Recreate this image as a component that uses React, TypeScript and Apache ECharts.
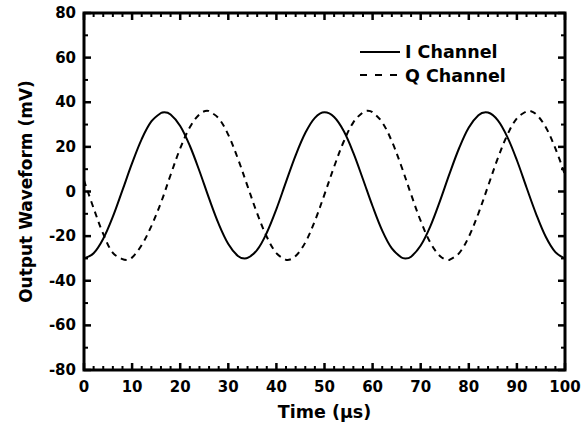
import React, { useEffect, useRef } from "react";
import * as echarts from "echarts";

const iTime = [0, 2, 4, 6, 8, 10, 12, 14, 16, 16.7, 18, 20, 22, 24, 26, 28, 30, 32, 33.4, 34, 36, 38, 40, 42, 44, 46, 48, 50, 52, 54, 56, 58, 60, 62, 64, 66, 66.8, 68, 70, 72, 74, 76, 78, 80, 82, 83.5, 84, 86, 88, 90, 92, 94, 96, 98, 100];
const iChannel = [-30.0, -27.7, -21.2, -11.3, 0.6, 12.7, 23.5, 31.4, 35.2, 35.5, 34.5, 29.4, 20.5, 9.2, -3.1, -14.5, -23.5, -28.9, -30.0, -29.8, -26.2, -18.5, -7.9, 4.3, 16.2, 26.2, 33.0, 35.5, 33.4, 27.1, 17.3, 5.5, -6.6, -17.5, -25.5, -29.6, -30.0, -29.2, -24.2, -15.6, -4.3, 8.0, 19.5, 28.7, 34.2, 35.5, 35.4, 32.0, 24.5, 14.0, 1.8, -10.1, -20.3, -27.2, -30.0];
const qTime = [0, 2, 4, 6, 8, 8.9, 10, 12, 14, 16, 18, 20, 22, 24, 25.6, 26, 28, 30, 32, 34, 36, 38, 40, 42, 42.3, 44, 46, 48, 50, 52, 54, 56, 58, 59, 60, 62, 64, 66, 68, 70, 72, 74, 75.7, 76, 78, 80, 82, 84, 86, 88, 90, 92, 92.4, 94, 96, 98, 100];
const qChannel = [5.0, -7.5, -19.0, -27.5, -30.3, -30.7, -29.6, -24.0, -15.5, -5.0, 7.4, 19.3, 28.8, 34.6, 36.2, 36.0, 32.8, 25.4, 14.7, 2.4, -9.8, -20.3, -27.6, -30.6, -30.7, -28.9, -22.9, -13.2, -1.3, 11.1, 22.4, 31.0, 35.5, 36.2, 35.5, 31.0, 22.5, 11.2, -1.3, -13.2, -22.9, -28.9, -30.7, -30.6, -27.6, -20.3, -9.8, 2.4, 14.7, 25.3, 32.8, 36.0, 36.2, 34.6, 28.8, 19.3, 7.5];
const seriesNames = ["I Channel", "Q Channel"];
const xTitle = "Time (\u03bcs)";
const yTitle = "Output Waveform (mV)";
const xMajorTicks = [0, 10, 20, 30, 40, 50, 60, 70, 80, 90, 100];
const yMajorTicks = [-80, -60, -40, -20, 0, 20, 40, 60, 80];
const xMinorPerMajor = 5;
const yMinorPerMajor = 2;

const FONT = "'DejaVu Sans', 'Liberation Sans', Arial, sans-serif";

export default function App() {
  const ref = useRef<HTMLDivElement>(null);
  useEffect(() => {
    if (!ref.current) return;
    const chart = echarts.init(ref.current, null, { renderer: "svg" });
    const labelStyle = { color: "#000", fontFamily: FONT, fontWeight: "bold" as const, fontSize: 15 };
    const legendText = { fill: "#000", fontFamily: FONT, fontWeight: "bold", fontSize: 17.5 };
    const legendGraphics = [
      { type: "line", shape: { x1: 360, y1: 52, x2: 400, y2: 52 }, style: { stroke: "#000", lineWidth: 2 } },
      { type: "text", x: 405, y: 52, style: { ...legendText, text: seriesNames[0], verticalAlign: "middle" } },
      { type: "line", shape: { x1: 360, y1: 75, x2: 402, y2: 75 }, style: { stroke: "#000", lineWidth: 2, lineDash: [7, 8] } },
      { type: "text", x: 405, y: 76, style: { ...legendText, text: seriesNames[1], verticalAlign: "middle" } },
    ];
    chart.setOption({
      animation: false,
      backgroundColor: "#fff",
      grid: { left: 84, right: 23, top: 13, bottom: 60, containLabel: false, show: true, borderColor: "#000", borderWidth: 3, backgroundColor: "transparent" },
      graphic: legendGraphics,
      xAxis: {
        type: "value", min: 0, max: 100, interval: 10,
        axisLine: { show: false, onZero: false }, axisTick: { show: false }, minorTick: { show: false },
        splitLine: { show: false },
        axisLabel: { ...labelStyle, margin: 9 },
        name: xTitle, nameLocation: "middle", nameGap: 33,
        nameTextStyle: { color: "#000", fontFamily: FONT, fontWeight: "bold", fontSize: 17.5 },
      },
      yAxis: {
        type: "value", min: -80, max: 80, interval: 20,
        axisLine: { show: false, onZero: false }, axisTick: { show: false }, minorTick: { show: false },
        splitLine: { show: false },
        axisLabel: { ...labelStyle, margin: 8 },
        name: yTitle, nameLocation: "middle", nameGap: 50, nameRotate: 90,
        nameTextStyle: { color: "#000", fontFamily: FONT, fontWeight: "bold", fontSize: 17 },
      },
      series: [
        {
          name: seriesNames[0], type: "line", smooth: 0.35, symbol: "none",
          data: iTime.map((t, i) => [t, iChannel[i]]),
          lineStyle: { color: "#000", width: 2, type: "solid" },
          itemStyle: { color: "#000" },
        },
        {
          name: seriesNames[1], type: "line", smooth: 0.35, symbol: "none",
          data: qTime.map((t, i) => [t, qChannel[i]]),
          lineStyle: { color: "#000", width: 2, type: [6, 5] },
          itemStyle: { color: "#000" },
        },
      ],
    });

    // inward ticks on all four sides, placed through the axes' own scales
    const px = (v: number) => chart.convertToPixel({ xAxisIndex: 0 }, v) as number;
    const py = (v: number) => chart.convertToPixel({ yAxisIndex: 0 }, v) as number;
    const left = px(xMajorTicks[0]);
    const right = px(xMajorTicks[xMajorTicks.length - 1]);
    const bottom = py(yMajorTicks[0]);
    const top = py(yMajorTicks[yMajorTicks.length - 1]);
    const ticks: any[] = [];
    const majorLen = 7;
    const minorLen = 4;
    const addX = (v: number, len: number, w: number) => {
      const x = px(v);
      ticks.push({ type: "line", silent: true, shape: { x1: x, y1: bottom, x2: x, y2: bottom - len }, style: { stroke: "#000", lineWidth: w } });
      ticks.push({ type: "line", silent: true, shape: { x1: x, y1: top, x2: x, y2: top + len }, style: { stroke: "#000", lineWidth: w } });
    };
    const addY = (v: number, len: number, w: number) => {
      const y = py(v);
      ticks.push({ type: "line", silent: true, shape: { x1: left, y1: y, x2: left + len, y2: y }, style: { stroke: "#000", lineWidth: w } });
      ticks.push({ type: "line", silent: true, shape: { x1: right, y1: y, x2: right - len, y2: y }, style: { stroke: "#000", lineWidth: w } });
    };
    xMajorTicks.forEach((v, i) => {
      addX(v, majorLen, 2.5);
      if (i < xMajorTicks.length - 1) {
        const step = (xMajorTicks[i + 1] - v) / xMinorPerMajor;
        for (let k = 1; k < xMinorPerMajor; k++) addX(v + k * step, minorLen, 2);
      }
    });
    yMajorTicks.forEach((v, i) => {
      addY(v, majorLen, 2.5);
      if (i < yMajorTicks.length - 1) {
        const step = (yMajorTicks[i + 1] - v) / yMinorPerMajor;
        for (let k = 1; k < yMinorPerMajor; k++) addY(v + k * step, minorLen, 2);
      }
    });
    chart.setOption({ graphic: [...legendGraphics, ...ticks] });

    return () => chart.dispose();
  }, []);
  return <div ref={ref} style={{ width: 588, height: 430, position: "absolute", left: 0, top: 0 }} />;
}
